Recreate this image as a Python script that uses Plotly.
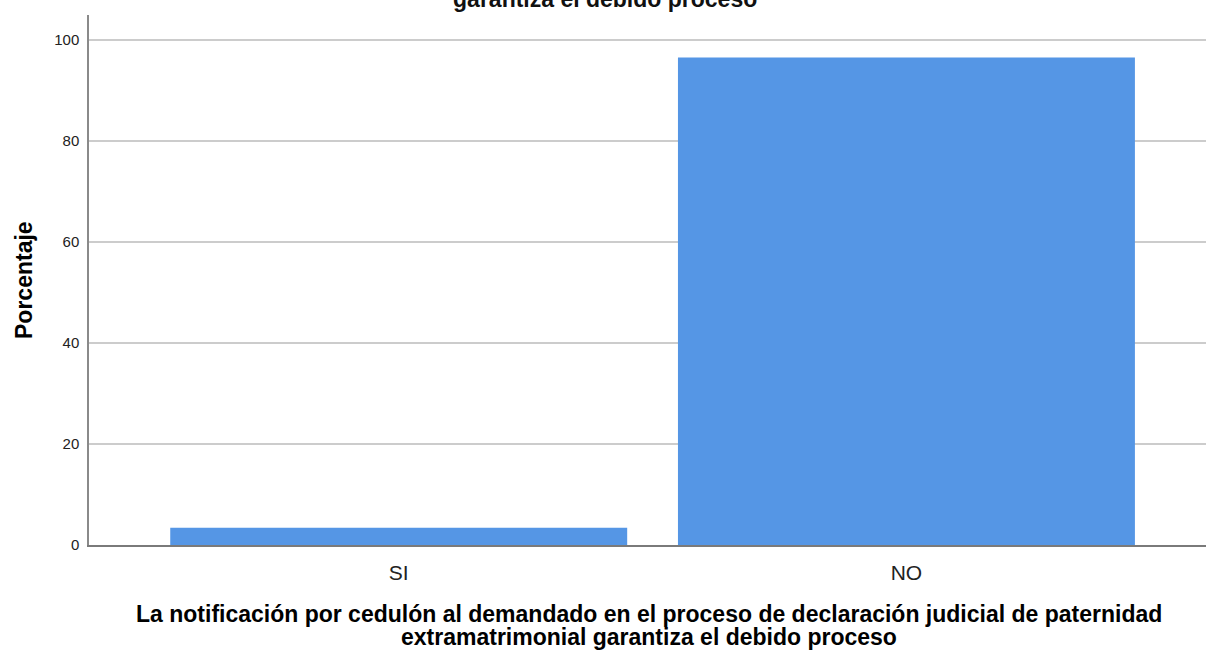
import plotly.graph_objects as go

categories = ["SI", "NO"]
percentages = [3.4, 96.6]
y_ticks = [0, 20, 40, 60, 80, 100]

title_text = ("La notificación por cedulón al demandado en el proceso de declaración judicial de paternidad<br>"
              "extramatrimonial<br>garantiza el debido proceso")
xtitle_line1 = "La notificación por cedulón al demandado en el proceso de declaración judicial de paternidad"
xtitle_line2 = "extramatrimonial garantiza el debido proceso"
ytitle = "Porcentaje"

W, H = 1206, 650
L, R, T, B = 89, 0, 15, 105
PW, PH = W - L - R, H - T - B


def px(x):
    return (x - L) / PW


def py(y):
    return (H - B - y) / PH


fig = go.Figure()
fig.add_trace(go.Bar(
    x=categories, y=percentages, width=0.9,
    marker=dict(color="#5596e5", line=dict(width=0)),
    hoverinfo="x+y",
))

font_family = "Liberation Sans, Arial, sans-serif"

fig.update_layout(
    width=W, height=H,
    margin=dict(l=L, r=R, t=T, b=B),
    paper_bgcolor="white", plot_bgcolor="white",
    showlegend=False,
    font=dict(family=font_family, color="#1a1a1a"),
    xaxis=dict(
        range=[-0.61, 1.59],
        showgrid=False, zeroline=False,
        showline=True, linecolor="#7a7a7a", linewidth=1.5,
        tickfont=dict(size=21, color="#222222"),
        ticks="", ticklabelstandoff=8,
        fixedrange=True,
    ),
    yaxis=dict(
        range=[0, 105],
        tickvals=y_ticks,
        showgrid=True, gridcolor="#cccccc", gridwidth=1.5,
        zeroline=False,
        showline=True, linecolor="#8a8a8a", linewidth=1.5,
        tickfont=dict(size=15, color="#222222"),
        ticks="", ticklabelstandoff=5,
        fixedrange=True,
    ),
)

# Chart title (its upper lines run off the top of the page, as in the original)
fig.add_annotation(
    text="<b>" + title_text + "</b>", xref="paper", yref="paper",
    x=px(605), y=py(14), xanchor="center", yanchor="bottom",
    showarrow=False, align="center",
    font=dict(size=23, color="#111111", family=font_family),
)
# X axis title (two lines)
fig.add_annotation(
    text="<b>" + xtitle_line1 + "</b>", xref="paper", yref="paper",
    x=px(649), y=py(614), xanchor="center", yanchor="middle",
    showarrow=False, font=dict(size=23, color="#000000", family=font_family),
)
fig.add_annotation(
    text="<b>" + xtitle_line2 + "</b>", xref="paper", yref="paper",
    x=px(649), y=py(637), xanchor="center", yanchor="middle",
    showarrow=False, font=dict(size=23, color="#000000", family=font_family),
)
# Y axis title
fig.add_annotation(
    text="<b>" + ytitle + "</b>", xref="paper", yref="paper",
    x=px(24), y=py(280), xanchor="center", yanchor="middle",
    textangle=-90, showarrow=False,
    font=dict(size=23, color="#000000", family=font_family),
)

fig.write_html("out.html", config={"displayModeBar": False},
               post_script="document.body.style.margin='0';")
